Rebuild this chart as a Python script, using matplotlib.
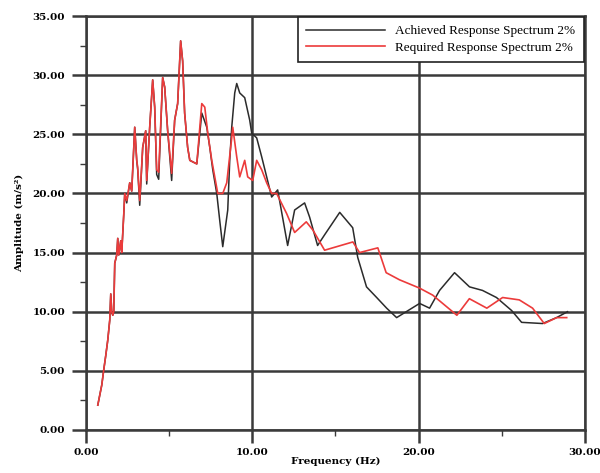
import matplotlib.pyplot as plt
from matplotlib.ticker import MultipleLocator

# Required response spectrum (red)
req_freq = [0.72, 0.96, 1.08, 1.20, 1.32, 1.44, 1.50, 1.56, 1.62, 1.68, 1.74, 1.86,
            1.92, 1.98, 2.10, 2.16, 2.28, 2.34, 2.46, 2.64, 2.76, 2.94, 3.06, 3.12,
            3.24, 3.42, 3.60, 3.66, 3.84, 4.02, 4.14, 4.26, 4.38, 4.62, 4.74, 4.92,
            5.16, 5.34, 5.52, 5.70, 5.82, 5.94, 6.12, 6.25, 6.67, 6.97, 7.15, 7.33,
            7.57, 7.93, 8.23, 8.47, 8.77, 8.83, 9.07, 9.25, 9.55, 9.73, 10.03, 10.27,
            10.57, 10.87, 11.17, 11.47, 12.07, 12.55, 13.25, 13.65, 14.35, 16.05,
            16.45, 17.55, 18.05, 18.85, 20.05, 20.85, 22.3, 23.05, 24.1, 25.05,
            26.05, 26.85, 27.55, 28.3, 28.9]
req_amp = [2.1, 3.8, 5.1, 6.3, 7.6, 9.3, 11.5, 10.0, 9.7, 10.0, 14.1, 14.8,
           16.2, 14.8, 16.0, 15.0, 18.2, 20.0, 19.4, 20.9, 20.2, 25.6, 22.8, 22.2,
           19.4, 23.9, 25.3, 21.1, 25.6, 29.6, 27.3, 22.0, 21.8, 29.8, 29.0, 25.3,
           21.7, 26.2, 27.6, 32.9, 31.2, 26.8, 23.9, 22.8, 22.5, 27.6, 27.3, 25.1,
           22.8, 20.0, 20.0, 20.9, 24.7, 25.6, 23.1, 21.4, 22.8, 21.4, 21.1, 22.8,
           22.0, 20.9, 20.0, 20.0, 18.3, 16.7, 17.6, 16.9, 15.2, 15.9,
           15.0, 15.4, 13.3, 12.7, 12.0, 11.4, 9.7, 11.1, 10.3, 11.2,
           11.0, 10.3, 9.0, 9.5, 9.5]

# Achieved response spectrum (black)
ach_freq = [0.72, 0.96, 1.08, 1.20, 1.32, 1.44, 1.50, 1.56, 1.62, 1.68, 1.74, 1.86,
            1.92, 1.98, 2.10, 2.16, 2.28, 2.34, 2.46, 2.64, 2.76, 2.94, 3.06, 3.12,
            3.24, 3.42, 3.60, 3.66, 3.84, 4.02, 4.14, 4.26, 4.38, 4.62, 4.74, 4.92,
            5.16, 5.34, 5.52, 5.70, 5.82, 5.94, 6.12, 6.25, 6.67, 6.97, 7.27, 7.45,
            7.63, 7.87, 8.05, 8.23, 8.53, 8.65, 8.77, 8.95, 9.07, 9.25, 9.55, 9.85,
            9.97, 10.27, 10.57, 10.87, 11.17, 11.53, 12.13, 12.55, 13.15, 13.45,
            13.93, 14.35, 15.26, 16.04, 16.34, 16.87, 17.48, 18.08, 18.68, 20.06,
            20.66, 21.26, 22.16, 23.06, 23.84, 24.68, 25.59, 26.19, 27.45, 28.29, 28.95]
ach_amp = [2.1, 3.8, 5.1, 6.3, 7.6, 9.3, 11.5, 10.0, 9.7, 10.0, 14.1, 14.8,
           16.2, 14.8, 16.0, 15.0, 18.2, 20.0, 19.2, 20.9, 20.2, 25.6, 22.8, 22.0,
           19.0, 23.9, 25.3, 20.8, 25.6, 29.6, 27.3, 21.6, 21.2, 29.8, 29.0, 25.3,
           21.1, 26.2, 27.6, 32.9, 31.2, 26.8, 23.9, 22.8, 22.5, 26.8, 25.6, 23.9,
           22.0, 20.0, 17.7, 15.5, 18.6, 22.8, 25.6, 28.5, 29.3, 28.5, 28.1, 26.2,
           25.1, 24.7, 23.1, 21.4, 19.7, 20.3, 15.6, 18.6, 19.2, 18.0,
           15.6, 16.5, 18.4, 17.1, 14.6, 12.1, 11.2, 10.3, 9.5, 10.7,
           10.3, 11.8, 13.3, 12.1, 11.8, 11.2, 10.1, 9.1, 9.0, 9.5, 10.0]

x_ticks = [0, 10, 20, 30]
y_ticks = [0, 5, 10, 15, 20, 25, 30, 35]

grid_col = '#3a3a3a'
fnt = 'DejaVu Serif'

fig = plt.figure(figsize=(6, 4.73), dpi=100)
ax = fig.add_axes([0.143, 0.091, 0.832, 0.875])

ax.plot(ach_freq, ach_amp, color='#2b2b2b', lw=1.1, label='Achieved Response Spectrum 2%')
ax.plot(req_freq, req_amp, color='#ec3b3b', lw=1.2, label='Required Response Spectrum 2%')

ax.set_xlim(0, 30)
ax.set_ylim(0, 35)
ax.set_xticks(x_ticks)
ax.set_yticks(y_ticks)
ax.set_xticklabels(['%.2f' % v for v in x_ticks], fontfamily=fnt, fontweight='bold', fontsize=7.5)
ax.set_yticklabels(['%.2f' % v for v in y_ticks], fontfamily=fnt, fontweight='bold', fontsize=7.5)
ax.xaxis.set_minor_locator(MultipleLocator(5))
ax.yaxis.set_minor_locator(MultipleLocator(2.5))
ax.tick_params(axis='y', which='major', length=10, pad=5)
ax.tick_params(axis='x', which='major', length=9, pad=4)
ax.tick_params(which='major', width=1.8, color=grid_col, direction='out')
ax.tick_params(which='minor', length=4, width=1.0, color=grid_col, direction='out')
ax.grid(True, which='major', color=grid_col, lw=1.8)
for s in ax.spines.values():
    s.set_color(grid_col)
    s.set_linewidth(1.8)

ax.set_xlabel('Frequency (Hz)', fontfamily=fnt, fontweight='bold', fontsize=7.5, labelpad=0)
ax.set_ylabel('Amplitude (m/s²)', fontfamily=fnt, fontweight='bold', fontsize=7.5, labelpad=6)

leg = ax.legend(loc='upper right', bbox_to_anchor=(0.997, 0.997), borderaxespad=0,
                handlelength=6, handletextpad=0.8, labelspacing=0.3, borderpad=0.6,
                fancybox=False, framealpha=1,
                prop={'family': 'Liberation Serif', 'size': 9.5})
leg.get_frame().set_edgecolor('#222222')
leg.get_frame().set_linewidth(1.2)

plt.savefig('out.png', dpi=100)
